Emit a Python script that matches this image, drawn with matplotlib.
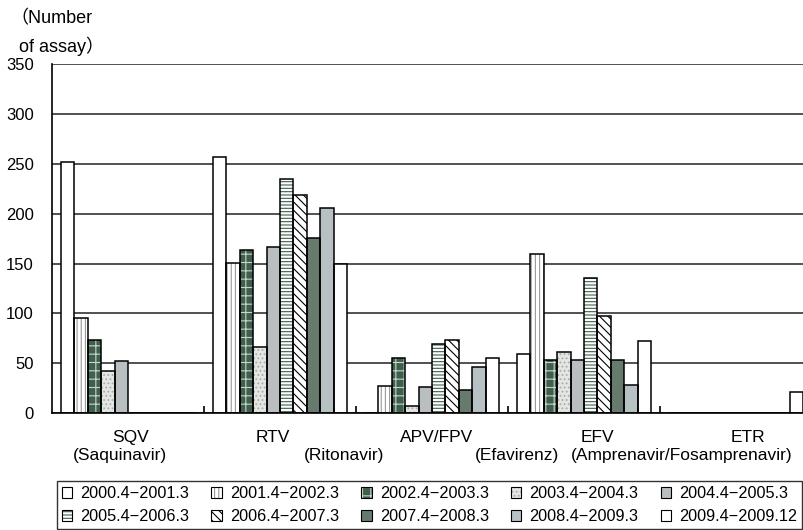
import numpy as np
import matplotlib
matplotlib.use("Agg")
import matplotlib.pyplot as plt
from matplotlib.patches import Patch
from matplotlib.legend_handler import HandlerTuple

plt.rcParams['font.family'] = ['Liberation Sans', 'Noto Sans CJK JP', 'DejaVu Sans']
plt.rcParams['hatch.linewidth'] = 0.8

# - - - - - - - - - - - - - - - - - - - - data - - - - - - - - - - - - - - - - - - - #
drugs = ["SQV", "RTV", "APV/FPV", "EFV", "ETR"]
drug_names = ["(Saquinavir)", "(Ritonavir)", "(Efavirenz)",
              "(Amprenavir/Fosamprenavir)", ""]
periods = ["2000.4\u22122001.3", "2001.4\u22122002.3", "2002.4\u22122003.3",
           "2003.4\u22122004.3", "2004.4\u22122005.3", "2005.4\u22122006.3",
           "2006.4\u22122007.3", "2007.4\u22122008.3", "2008.4\u22122009.3",
           "2009.4\u22122009.12"]

# number of assays per drug, one list per period
p2000 = [252, 257, 0, 59, 0]
p2001 = [95, 151, 27, 160, 0]
p2002 = [73, 164, 55, 53, 0]
p2003 = [42, 66, 7, 61, 0]
p2004 = [52, 167, 26, 53, 0]
p2005 = [0, 235, 69, 135, 0]
p2006 = [0, 219, 73, 97, 0]
p2007 = [0, 176, 23, 53, 0]
p2008 = [0, 206, 46, 28, 0]
p2009 = [0, 150, 55, 72, 21]
series = [p2000, p2001, p2002, p2003, p2004, p2005, p2006, p2007, p2008, p2009]

# (facecolor, hatch, hatch colour)
styles = [
    ("white", "", "black"),
    ("white", "||||", "#9a9a9a"),
    ("#3f5f4c", "++", "#c8d4cc"),
    ("#e4e6e4", "....", "#a8aca8"),
    ("#b9bfc0", "", "black"),
    ("white", "-----", "#3f5f4c"),
    ("white", "\\\\\\\\", "black"),
    ("#667a6e", "", "black"),
    ("#b7c0c2", "", "black"),
    ("white", "", "black"),
]
# - - - - - - - - - - - - - - - - - - - - - - - - - - - - - - - - - - - - - - - - - - #

fig = plt.figure(figsize=(8.04, 5.30), dpi=100)
ax = fig.add_axes([52 / 804, 1 - 413.3 / 530, 1 - 52 / 804, 349.5 / 530])

x = np.arange(len(drugs))
w = 13.4 / 152
handles = []
for j, vals in enumerate(series):
    fc, hatch, hc = styles[j]
    pos = x + (j - 4.5) * w
    ax.bar(pos, vals, width=w, color=fc, edgecolor=hc, hatch=hatch,
           linewidth=0, zorder=2)
    ax.bar(pos, vals, width=w, fill=False, edgecolor="black",
           linewidth=1.1, zorder=3)
    h1 = Patch(facecolor=fc, edgecolor=hc, hatch=hatch, linewidth=0)
    h2 = Patch(fill=False, edgecolor="black", linewidth=0.8)
    handles.append((h1, h2))

ax.set_ylim(0, 350)
ax.set_xlim(-0.5, -0.5 + 752 / 152)
ax.set_yticks(np.arange(0, 351, 50))
ax.yaxis.grid(True, color="#333333", linewidth=1.2)
ax.set_axisbelow(True)
ax.tick_params(axis="y", length=0, labelsize=12, pad=13)

ax.set_xticks([])
ax.set_xticks(np.arange(0.5, 4.5, 1), minor=True)
ax.tick_params(axis="x", which="minor", direction="in", length=5,
               width=1.2, labelbottom=False)

for s in ["top", "right"]:
    ax.spines[s].set_visible(False)
ax.spines["left"].set_linewidth(1.2)
ax.spines["bottom"].set_linewidth(1.2)

# group labels (offsets as drawn in the original)
name_x = [0.02, -0.05, 0.03, 0.09, 0.08]
sub_x = [-0.05, 0.42, 0.56, 0.64, 0.0]
for i in range(len(drugs)):
    ax.text(i + name_x[i], -0.068, drugs[i], transform=ax.get_xaxis_transform(),
            ha="center", va="center", fontsize=12.5)
    ax.text(i + sub_x[i], -0.122, drug_names[i], transform=ax.get_xaxis_transform(),
            ha="center", va="center", fontsize=12.5)

fig.text(10 / 804, 1 - 19 / 530, "\uff08Number", ha="left", va="center",
         fontsize=13)
fig.text(19 / 804, 1 - 46 / 530, "of assay\uff09", ha="left", va="center",
         fontsize=13)

# legend fills column by column: reorder so rows read 2000..2004 / 2005..2009
order = [0, 5, 1, 6, 2, 7, 3, 8, 4, 9]
leg = fig.legend([handles[k] for k in order], [periods[k] for k in order],
                 ncol=5, loc="upper center",
                 bbox_to_anchor=(429.5 / 804, 1 - 481 / 530),
                 handler_map={tuple: HandlerTuple(ndivide=1, pad=0)},
                 handlelength=0.65, handleheight=0.65, handletextpad=0.5,
                 columnspacing=1.35, labelspacing=0.5, borderpad=0.3,
                 borderaxespad=0, fontsize=11.7, frameon=True, fancybox=False,
                 edgecolor="black")
leg.get_frame().set_linewidth(1.0)

fig.savefig("out.png", dpi=100)
